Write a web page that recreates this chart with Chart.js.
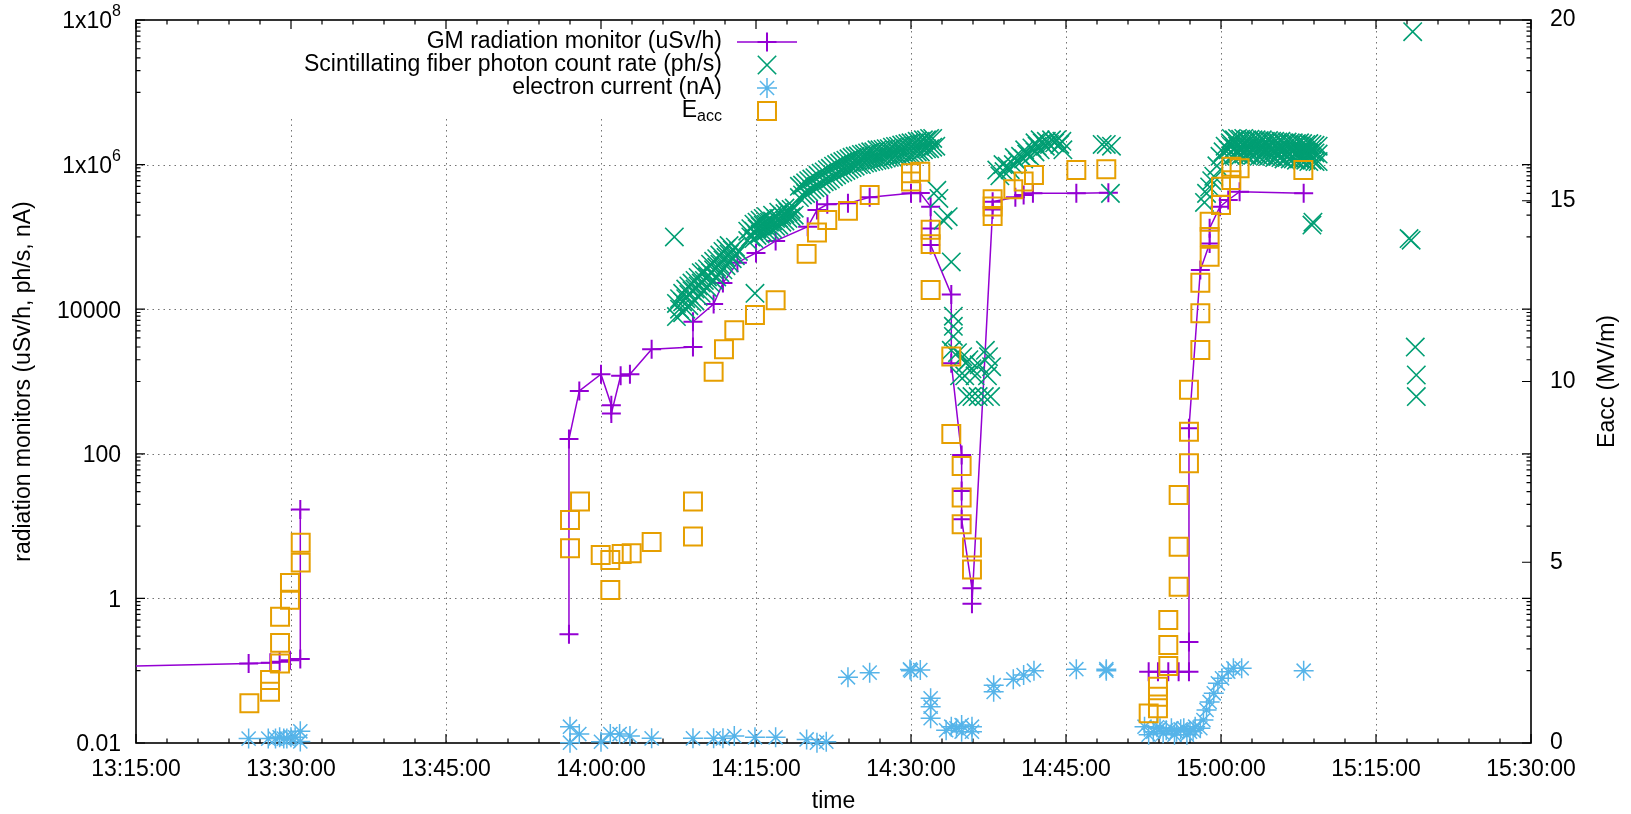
<!DOCTYPE html>
<html>
<head>
<meta charset="utf-8">
<script src="https://cdn.jsdelivr.net/npm/chart.js@4.4.1/dist/chart.umd.min.js"></script>
<style>
  html, body { margin: 0; padding: 0; background: #fff; }
  #wrap { width: 1631px; height: 814px; }
</style>
</head>
<body>
<div id="wrap"><canvas id="radChart" width="1631" height="814"></canvas></div>
<script>
// times are minutes after 13:15:00
const timeLabels = ['13:15:00', '13:30:00', '13:45:00', '14:00:00', '14:15:00',
                    '14:30:00', '14:45:00', '15:00:00', '15:15:00', '15:30:00'];
const radTicks = [0.01, 1, 100, 1e4, 1e6, 1e8];
const radTickLabels = ['0.01', '1', '100', '10000', '1x10^6', '1x10^8'];
const eaccTicks = [0, 5, 10, 15, 20];

// GM radiation monitor (uSv/h), null = gap in the record
const gmTime = [-8, 10.9, 13.0, 13.9, 14.9, 15.9, 15.9, 30,
  41.9, 41.9, 42.9, 45.0, 46.0, 46.0, 46.9, 47.8, 49.9, 53.9, 53.9, 55.9, 56.8, 58.2, 60.0, 61.9,
  65.0, 65.9, 66.9, 68.9, 71.0, 75.0, 75.9, 76.9, 76.9, 76.9, 78.9, 78.9, 79.9, 79.9, 79.9,
  80.9, 80.9, 82.9, 82.9, 85.1, 85.9, 86.8, 91.0, 94.1, 96,
  98.0, 98.9, 99.9, 100.9, 101.9, 101.9, 101.9, 103.0, 103.9, 103.9, 104.9, 105.7, 106.8, 113.0];
const gmValue = [0.11, 0.126, 0.129, 0.133, 0.14, 0.145, 17, null,
  0.32, 160, 740, 1260, 470, 360, 1200, 1260, 2800, 3000, 6700, 11800, 23000, 44000, 60000, 88000,
  138000, 235000, 283000, 291000, 353000, 401000, 405000, 262000, 131000, 77000, 16000, 1790, 96, 30.6, 12.4,
  1.38, 0.84, 240000, 307000, 353000, 380000, 401000, 401000, 409000, null,
  0.097, 0.097, 0.097, 0.097, 0.097, 0.25, 225, 34800, 81000, 132000, 262000, 324000, 422000, 401000];

// Scintillating fiber photon count rate (ph/s)
const fiberTime = [52.1, 59.9,
  52.3, 52.3, 52.6, 52.6, 52.9, 52.9, 52.9, 53.2, 53.2, 53.2,
  53.5, 53.5, 53.5, 53.8, 53.8, 53.8, 54.1, 54.1, 54.1, 54.4, 54.4, 54.4,
  54.7, 54.7, 54.7, 55.0, 55.0, 55.0, 55.3, 55.3, 55.3, 55.6, 55.6, 55.6,
  55.9, 55.9, 55.9, 56.2, 56.2, 56.2, 56.5, 56.5, 56.5, 56.8, 56.8, 56.8,
  57.1, 57.1, 57.1, 57.4, 57.4, 57.4, 57.7, 57.7, 58.0, 58.0, 58.3,
  59.2, 59.2, 59.5, 59.5, 59.8, 59.8, 59.8, 60.1, 60.1, 60.1, 60.4, 60.4, 60.4,
  60.7, 60.7, 60.7, 61.0, 61.0, 61.0, 61.3, 61.3, 61.6, 61.6, 61.6, 61.9, 61.9,
  62.2, 62.2, 62.2, 62.5, 62.5, 62.8, 62.8, 62.8, 63.1, 63.1, 63.4, 63.4, 63.7, 63.7,
  64.2, 64.2, 64.5, 64.5, 64.8, 64.8, 65.1, 65.1, 65.4, 65.4, 65.7, 65.7, 66.0, 66.0, 66.3, 66.3,
  66.6, 66.6, 66.9, 66.9, 67.2, 67.2, 67.5, 67.5, 67.8, 67.8, 68.1, 68.1, 68.4, 68.4, 68.7, 68.7,
  69.0, 69.0, 69.3, 69.3, 69.6, 69.6, 69.9, 69.9, 70.2, 70.2, 70.5, 70.5, 70.8, 70.8, 71.1, 71.1,
  71.4, 71.4, 71.7, 71.7, 72.0, 72.0, 72.3, 72.3, 72.6, 72.6, 72.9, 72.9, 73.2, 73.2, 73.5, 73.5,
  73.8, 73.8, 74.1, 74.1, 74.4, 74.4, 74.7, 74.7, 75.0, 75.0, 75.3, 75.3, 75.6, 75.6, 75.9, 75.9,
  76.2, 76.2, 76.5, 76.5, 76.8, 76.8, 77.1, 77.1, 77.4,
  77.5, 77.7, 78.1, 78.6, 78.9, 79.1, 79.1, 79.1,
  78.9, 79.5, 80.0, 80.3, 80.6, 80.9, 81.2, 79.7, 80.2, 81.6, 82.2, 82.5, 82.8, 82.4,
  80.4, 80.9, 81.5, 82.1, 82.7,
  83.3, 83.6, 83.9, 84.0, 84.3, 84.6, 84.9, 85.0, 85.3, 85.6, 85.9, 86.0, 86.2, 86.5,
  86.7, 87.0, 87.0, 87.2, 87.5, 87.5, 87.7, 88.0, 88.1, 88.4, 88.6, 88.9, 89.1, 89.4, 89.6, 89.7,
  93.5, 93.9, 94.4, 94.3,
  103.4, 103.6, 103.9, 104.1, 104.3, 104.6, 104.9, 105.2, 105.4, 105.7, 105.9,
  106.0, 106.0, 106.0, 106.3, 106.3, 106.3, 106.6, 106.6, 106.6, 106.9, 106.9, 106.9,
  107.2, 107.2, 107.2, 107.5, 107.5, 107.5, 107.8, 107.8, 107.8, 108.1, 108.1, 108.1,
  108.4, 108.4, 108.4, 108.7, 108.7, 108.7, 109.0, 109.0, 109.0, 109.3, 109.3, 109.3,
  109.6, 109.6, 109.6, 109.9, 109.9, 109.9, 110.2, 110.2, 110.2, 110.5, 110.5, 110.5,
  110.8, 110.8, 110.8, 111.1, 111.1, 111.1, 111.4, 111.4, 111.4, 111.7, 111.7, 111.7,
  112.0, 112.0, 112.0, 112.3, 112.3, 112.3, 112.6, 112.6, 112.6, 112.9, 112.9, 112.9,
  113.2, 113.2, 113.2, 113.5, 113.5, 113.5, 113.8, 113.8, 113.8, 114.1, 114.1, 114.1, 114.4, 114.4, 114.4,
  113.8, 113.9, 123.55, 123.2, 123.4, 123.8, 123.9, 123.9];
const fiberRate = [1.0e5, 1.66e4,
  7.9e3, 1.2e4, 1.0e4, 1.4e4, 8.9e3, 1.26e4, 1.66e4, 1.0e4, 1.4e4, 1.9e4,
  1.12e4, 1.6e4, 2.1e4, 1.26e4, 1.8e4, 2.3e4, 1.3e4, 1.9e4, 2.5e4, 1.5e4, 2.1e4, 2.75e4,
  1.66e4, 2.3e4, 3.2e4, 1.8e4, 2.5e4, 3.3e4, 2.0e4, 2.8e4, 3.6e4, 2.3e4, 3.2e4, 4.2e4,
  2.5e4, 3.5e4, 4.6e4, 2.8e4, 3.8e4, 5.0e4, 3.2e4, 4.2e4, 5.6e4, 3.5e4, 4.8e4, 6.3e4,
  4.0e4, 5.2e4, 6.9e4, 4.4e4, 5.8e4, 7.6e4, 5.0e4, 6.6e4, 5.5e4, 7.2e4, 6.3e4,
  8.9e4, 1.2e5, 1.0e5, 1.3e5, 9.5e4, 1.2e5, 1.5e5, 1.05e5, 1.3e5, 1.6e5, 1.1e5, 1.4e5, 1.7e5,
  1.15e5, 1.45e5, 1.8e5, 1.2e5, 1.5e5, 1.9e5, 1.26e5, 1.6e5, 1.3e5, 1.66e5, 2.0e5, 1.4e5, 1.8e5,
  1.45e5, 1.8e5, 2.2e5, 1.6e5, 2.0e5, 1.66e5, 2.1e5, 2.5e5, 1.8e5, 2.2e5, 1.9e5, 2.4e5, 2.0e5, 2.5e5,
  3.5e5, 5.0e5, 3.8e5, 5.2e5, 4.0e5, 5.6e5, 4.2e5, 6.0e5, 4.5e5, 6.3e5, 4.8e5, 6.6e5, 5.0e5, 7.1e5, 5.4e5, 7.6e5,
  5.8e5, 7.9e5, 6.0e5, 8.5e5, 6.3e5, 8.9e5, 6.8e5, 9.5e5, 7.2e5, 1.0e6, 7.6e5, 1.05e6, 7.9e5, 1.1e6, 8.3e5, 1.15e6,
  8.7e5, 1.2e6, 9.1e5, 1.26e6, 9.5e5, 1.3e6, 1.0e6, 1.32e6, 1.0e6, 1.38e6, 1.05e6, 1.4e6, 1.07e6, 1.45e6, 1.1e6, 1.5e6,
  1.12e6, 1.5e6, 1.15e6, 1.6e6, 1.17e6, 1.6e6, 1.2e6, 1.62e6, 1.23e6, 1.66e6, 1.26e6, 1.66e6, 1.26e6, 1.74e6, 1.32e6, 1.78e6,
  1.32e6, 1.8e6, 1.35e6, 1.86e6, 1.38e6, 1.9e6, 1.4e6, 1.95e6, 1.4e6, 2.0e6, 1.45e6, 2.0e6, 1.5e6, 2.1e6, 1.5e6, 2.1e6,
  1.6e6, 2.2e6, 1.66e6, 2.2e6, 1.66e6, 2.3e6, 1.74e6, 2.3e6, 1.8e6,
  4.4e5, 3.4e5, 1.7e5, 1.9e5, 4.5e4, 8.0e3, 5.8e3, 4.2e3,
  2.7e3, 2.5e3, 2.2e3, 1.8e3, 2.0e3, 1.5e3, 1.2e3, 1.2e3, 1.2e3, 1.7e3, 2.7e3, 2.2e3, 1.6e3, 1.2e3,
  620, 620, 620, 620, 620,
  8.4e5, 7.0e5, 1.0e6, 8.0e5, 9.5e5, 8.5e5, 1.0e6, 1.25e6, 1.1e6, 1.3e6, 1.2e6, 1.6e6, 1.4e6, 1.3e6,
  1.7e6, 1.5e6, 2.0e6, 1.8e6, 1.6e6, 2.2e6, 2.0e6, 1.8e6, 2.1e6, 1.9e6, 2.2e6, 2.0e6, 2.2e6, 1.9e6, 2.1e6, 1.6e6,
  1.9e6, 1.9e6, 1.8e6, 4.0e5,
  3.0e5, 4.0e5, 4.9e5, 6.0e5, 6.9e5, 9.6e5, 1.3e6, 1.5e6, 1.8e6, 1.6e6, 2.0e6,
  2.3e6, 1.8e6, 1.3e6, 2.2e6, 1.7e6, 1.35e6, 2.3e6, 1.8e6, 1.4e6, 2.25e6, 1.75e6, 1.35e6,
  2.3e6, 1.8e6, 1.4e6, 2.2e6, 1.7e6, 1.35e6, 2.25e6, 1.75e6, 1.4e6, 2.2e6, 1.7e6, 1.35e6,
  2.2e6, 1.75e6, 1.4e6, 2.15e6, 1.7e6, 1.3e6, 2.2e6, 1.7e6, 1.35e6, 2.1e6, 1.65e6, 1.3e6,
  2.15e6, 1.7e6, 1.3e6, 2.1e6, 1.65e6, 1.3e6, 2.1e6, 1.6e6, 1.25e6, 2.05e6, 1.65e6, 1.3e6,
  2.1e6, 1.6e6, 1.25e6, 2.0e6, 1.6e6, 1.2e6, 2.05e6, 1.55e6, 1.25e6, 2.0e6, 1.6e6, 1.2e6,
  2.0e6, 1.55e6, 1.2e6, 1.95e6, 1.5e6, 1.15e6, 2.0e6, 1.55e6, 1.2e6, 1.95e6, 1.5e6, 1.15e6,
  1.9e6, 1.5e6, 1.15e6, 1.95e6, 1.45e6, 1.1e6, 1.9e6, 1.5e6, 1.15e6, 1.85e6, 1.45e6, 1.1e6, 1.8e6, 1.4e6, 1.1e6,
  1.46e5, 1.6e5, 6.9e7, 9.5e4, 9.0e4, 3.0e3, 1.23e3, 620];

// electron current (nA)
const currentTime = [10.9, 12.8, 13.5, 13.9, 14.3, 14.6, 15.0, 15.4, 15.9, 15.9,
  42.0, 42.0, 42.9, 45.0, 45.9, 46.8, 47.8, 49.9, 53.9, 55.9, 56.8, 57.9, 59.9, 61.9, 64.9, 65.9, 66.8,
  68.9, 71.0, 75.0, 75.9, 74.9, 76.9, 76.9, 76.9, 78.4, 78.9, 79.4, 79.9, 79.9, 80.9, 80.9,
  83.0, 83.0, 84.9, 85.9, 86.9, 91.0, 93.9, 93.9,
  97.6, 98.0, 98.45, 98.8, 99.1, 99.4, 99.7, 100.2, 100.5, 100.7, 101.1, 101.4, 101.7, 102.0, 102.3,
  102.5, 103.0, 103.3, 103.6, 103.9, 104.3, 104.7, 105.1, 105.7, 106.2, 107.0, 113.0];
const currentValue = [0.0115, 0.0115, 0.0115, 0.012, 0.0115, 0.0115, 0.012, 0.012, 0.0145, 0.0105,
  0.0168, 0.0101, 0.0133, 0.0104, 0.0133, 0.0133, 0.0125, 0.0116, 0.0116, 0.0116, 0.0116, 0.0125, 0.012, 0.012, 0.0112, 0.0101, 0.0104,
  0.081, 0.094, 0.1, 0.102, 0.104, 0.0415, 0.0318, 0.022, 0.015, 0.0168, 0.016, 0.0177, 0.0143, 0.0168, 0.0143,
  0.063, 0.051, 0.076, 0.087, 0.1, 0.105, 0.105, 0.1,
  0.0168, 0.013, 0.0143, 0.0165, 0.016, 0.0136, 0.015, 0.016, 0.013, 0.0143, 0.0155, 0.016, 0.013, 0.0143, 0.015,
  0.0168, 0.016, 0.0208, 0.0286, 0.037, 0.0487, 0.067, 0.0785, 0.097, 0.108, 0.108, 0.1];

// accelerating field Eacc (MV/m), right axis
const eaccTime = [10.97, 12.97, 12.97, 13.94, 13.94, 13.94, 14.9, 14.9, 15.94, 15.94,
  42.0, 42.0, 42.97, 44.97, 45.9, 45.9, 47.0, 47.97, 49.9, 53.9, 53.9,
  55.9, 56.9, 57.9, 59.9, 61.9, 64.9, 65.9, 66.9, 68.9, 71.0, 75.0, 75.0, 75.9, 76.9, 76.9, 76.9,
  78.9, 78.9, 79.9, 79.9, 79.9, 80.9, 80.9,
  82.9, 82.9, 82.9, 84.9, 85.9, 86.9, 91.0, 93.9,
  98.0, 98.9, 98.9, 98.9, 99.9, 99.9, 99.9, 100.9, 100.9, 100.9, 101.9, 101.9, 101.9,
  103.0, 103.0, 103.0, 103.9, 103.9, 103.9, 105.0, 105.0, 106.0, 106.0, 106.8, 112.97];
const eaccValue = [1.10, 1.74, 1.42, 3.49, 2.77, 2.20, 4.43, 3.96, 5.54, 4.99,
  6.17, 5.39, 6.68, 5.20, 5.06, 4.23, 5.23, 5.25, 5.56, 6.68, 5.71,
  10.27, 10.89, 11.42, 11.84, 12.25, 13.53, 14.12, 14.47, 14.72, 15.16, 15.76, 15.53, 15.80, 14.2, 13.8, 12.53,
  10.69, 8.55, 7.66, 6.79, 6.05, 5.41, 4.80,
  15.04, 14.84, 14.58, 15.32, 15.53, 15.71, 15.85, 15.87,
  0.82, 0.96, 1.28, 1.56, 2.13, 2.71, 3.40, 4.32, 5.43, 6.86, 7.74, 8.61, 9.77,
  10.87, 11.89, 12.73, 13.45, 14.0, 14.42, 14.88, 15.39, 15.57, 15.94, 15.90, 15.85];

const FONT = '"Liberation Sans", Arial, sans-serif';
const FONT_SIZE = 23;
const COLORS = { gm: '#9400d3', fiber: '#009e73', current: '#56b4e9', eacc: '#e69f00' };
const KEY_BOX = { left: 276, right: 808, bottom: 119 };

const pts = (xs, ys) => xs.map((t, i) => ({ x: t, y: ys[i] }));

const keyItems = [
  { label: 'GM radiation monitor (uSv/h)', color: COLORS.gm, style: 'cross', radius: 9.5, width: 2, line: true },
  { label: 'Scintillating fiber photon count rate (ph/s)', color: COLORS.fiber, style: 'crossRot', radius: 13, width: 1.6 },
  { label: 'electron current (nA)', color: COLORS.current, style: 'star', radius: 10, width: 1.5 },
  { label: 'E', sub: 'acc', color: COLORS.eacc, style: 'rect', radius: 12.7, width: 2 }
];

// keep the plot box fixed: no extra room for half tick labels
const noEdgePadding = s => { s.paddingTop = 0; s.paddingBottom = 0; s.paddingLeft = 0; s.paddingRight = 0; };

const gnuplotFrame = {
  id: 'gnuplotFrame',
  beforeDatasetsDraw(chart) {
    const { ctx, chartArea: a, scales: { x, y, y2 } } = chart;
    ctx.save();
    // dotted grid
    ctx.strokeStyle = 'rgba(0,0,0,0.55)';
    ctx.lineWidth = 1;
    ctx.setLineDash([1.5, 4]);
    ctx.beginPath();
    for (let i = 1; i < timeLabels.length - 1; i++) {
      const px = Math.round(x.getPixelForValue(i * 15)) + 0.5;
      ctx.moveTo(px, a.top); ctx.lineTo(px, a.bottom);
    }
    radTicks.slice(1, -1).forEach(v => {
      const py = Math.round(y.getPixelForValue(v)) + 0.5;
      ctx.moveTo(a.left, py); ctx.lineTo(a.right, py);
    });
    ctx.stroke();
    ctx.setLineDash([]);

    // opaque key background
    ctx.fillStyle = '#fff';
    ctx.fillRect(KEY_BOX.left, a.top + 1, KEY_BOX.right - KEY_BOX.left, KEY_BOX.bottom - a.top - 1);

    // tick marks
    ctx.strokeStyle = '#000';
    ctx.lineWidth = 1.2;
    ctx.beginPath();
    for (let m = 0; m <= 135; m += 3) {
      const px = x.getPixelForValue(m);
      const len = m % 15 === 0 ? 9 : 4.5;
      ctx.moveTo(px, a.bottom); ctx.lineTo(px, a.bottom - len);
      ctx.moveTo(px, a.top); ctx.lineTo(px, a.top + len);
    }
    radTicks.forEach(v => {
      const py = y.getPixelForValue(v);
      ctx.moveTo(a.left, py); ctx.lineTo(a.left + 9, py);
      ctx.moveTo(a.right, py); ctx.lineTo(a.right - 9, py);
    });
    [-1, 1, 3, 5, 7].forEach(e => {
      for (let k = 1; k <= 9; k++) {
        const py = y.getPixelForValue(k * Math.pow(10, e));
        ctx.moveTo(a.left, py); ctx.lineTo(a.left + 4.5, py);
        ctx.moveTo(a.right, py); ctx.lineTo(a.right - 4.5, py);
      }
    });
    eaccTicks.forEach(v => {
      const py = y2.getPixelForValue(v);
      ctx.moveTo(a.right, py); ctx.lineTo(a.right - 9, py);
    });
    ctx.stroke();

    // border
    ctx.lineWidth = 1.6;
    ctx.strokeRect(a.left, a.top, a.right - a.left, a.bottom - a.top);
    ctx.restore();
  },
  afterDraw(chart) {
    const { ctx, chartArea: a, scales: { y } } = chart;
    const mainFont = FONT_SIZE + 'px ' + FONT;
    const smallFont = '16px ' + FONT;
    ctx.save();
    ctx.fillStyle = '#000';

    // left tick labels with superscripts
    ctx.textAlign = 'right';
    ctx.textBaseline = 'middle';
    radTicks.forEach((v, i) => {
      const py = y.getPixelForValue(v);
      const [base, sup] = radTickLabels[i].split('^');
      let rx = a.left - 15;
      if (sup) {
        ctx.font = smallFont;
        ctx.fillText(sup, rx, py - 8);
        rx -= ctx.measureText(sup).width;
      }
      ctx.font = mainFont;
      ctx.fillText(base, rx, py + 2);
    });

    // axis titles
    ctx.font = mainFont;
    ctx.textAlign = 'center';
    ctx.fillText('time', (a.left + a.right) / 2, 802);
    ctx.save();
    ctx.translate(24, (a.top + a.bottom) / 2);
    ctx.rotate(-Math.PI / 2);
    ctx.fillText('radiation monitors (uSv/h, ph/s, nA)', 0, 0);
    ctx.restore();
    ctx.save();
    ctx.translate(1608, (a.top + a.bottom) / 2);
    ctx.rotate(-Math.PI / 2);
    ctx.fillText('Eacc (MV/m)', 0, 0);
    ctx.restore();

    // key entries
    const textRight = 722, sampleX = 767;
    keyItems.forEach((item, i) => {
      const ry = 42 + i * 23;
      ctx.fillStyle = '#000';
      ctx.textAlign = 'right';
      ctx.textBaseline = 'middle';
      if (item.sub) {
        ctx.font = smallFont;
        ctx.fillText(item.sub, textRight, ry + 6);
        const w = ctx.measureText(item.sub).width;
        ctx.font = mainFont;
        ctx.fillText(item.label, textRight - w, ry);
      } else {
        ctx.font = mainFont;
        ctx.fillText(item.label, textRight, ry);
      }
      ctx.strokeStyle = item.color;
      ctx.fillStyle = 'rgba(0,0,0,0)';
      if (item.line) {
        ctx.lineWidth = 1.5;
        ctx.beginPath();
        ctx.moveTo(737, ry); ctx.lineTo(797, ry);
        ctx.stroke();
      }
      ctx.lineWidth = item.width;
      Chart.helpers.drawPoint(ctx, { pointStyle: item.style, radius: item.radius, rotation: 0, borderWidth: item.width }, sampleX, ry);
    });
    ctx.restore();
  }
};

const ctx = document.getElementById('radChart').getContext('2d');
new Chart(ctx, {
  type: 'scatter',
  data: {
    datasets: [
      {
        type: 'line',
        label: 'GM radiation monitor (uSv/h)',
        data: pts(gmTime, gmValue),
        borderColor: COLORS.gm,
        borderWidth: 1.5,
        tension: 0,
        spanGaps: false,
        pointStyle: 'cross',
        pointRadius: 9.5,
        pointBorderWidth: 2,
        pointBorderColor: COLORS.gm,
        pointBackgroundColor: 'rgba(0,0,0,0)',
        yAxisID: 'y',
        order: 4,
        clip: { left: 0, top: false, right: false, bottom: false }
      },
      {
        label: 'Scintillating fiber photon count rate (ph/s)',
        data: pts(fiberTime, fiberRate),
        showLine: false,
        pointStyle: 'crossRot',
        pointRadius: 13,
        pointBorderWidth: 1.6,
        borderColor: COLORS.fiber,
        backgroundColor: 'rgba(0,0,0,0)',
        yAxisID: 'y',
        order: 3,
        clip: false
      },
      {
        label: 'electron current (nA)',
        data: pts(currentTime, currentValue),
        showLine: false,
        pointStyle: 'star',
        pointRadius: 10,
        pointBorderWidth: 1.5,
        borderColor: COLORS.current,
        backgroundColor: 'rgba(0,0,0,0)',
        yAxisID: 'y',
        order: 2,
        clip: false
      },
      {
        label: 'Eacc',
        data: pts(eaccTime, eaccValue),
        showLine: false,
        pointStyle: 'rect',
        pointRadius: 12.7,
        pointBorderWidth: 2,
        borderColor: COLORS.eacc,
        backgroundColor: 'rgba(0,0,0,0)',
        yAxisID: 'y2',
        order: 1,
        clip: false
      }
    ]
  },
  options: {
    responsive: false,
    animation: false,
    events: [],
    devicePixelRatio: 1,
    layout: { padding: { top: 20, left: 0, right: 0, bottom: 0 } },
    plugins: { legend: { display: false }, tooltip: { enabled: false } },
    scales: {
      x: {
        type: 'linear',
        position: 'bottom',
        min: 0,
        max: 135,
        afterBuildTicks: s => { s.ticks = timeLabels.map((_, i) => ({ value: i * 15 })); },
        afterFit: s => { s.height = 71; noEdgePadding(s); },
        ticks: {
          callback: (v, i) => timeLabels[i],
          font: { family: FONT, size: FONT_SIZE },
          color: '#000',
          padding: 13,
          maxRotation: 0,
          autoSkip: false
        },
        grid: { display: false, drawTicks: false },
        border: { display: false }
      },
      y: {
        type: 'logarithmic',
        position: 'left',
        min: 0.01,
        max: 1e8,
        afterBuildTicks: s => { s.ticks = radTicks.map(v => ({ value: v })); },
        afterFit: s => { s.width = 136; noEdgePadding(s); },
        ticks: { display: false },
        grid: { display: false, drawTicks: false },
        border: { display: false }
      },
      y2: {
        type: 'linear',
        position: 'right',
        min: 0,
        max: 20,
        afterBuildTicks: s => { s.ticks = eaccTicks.map(v => ({ value: v })); },
        afterFit: s => { s.width = 100; noEdgePadding(s); },
        ticks: {
          font: { family: FONT, size: FONT_SIZE },
          color: '#000',
          padding: 19
        },
        grid: { display: false, drawTicks: false },
        border: { display: false }
      }
    }
  },
  plugins: [gnuplotFrame]
});
</script>
</body>
</html>
